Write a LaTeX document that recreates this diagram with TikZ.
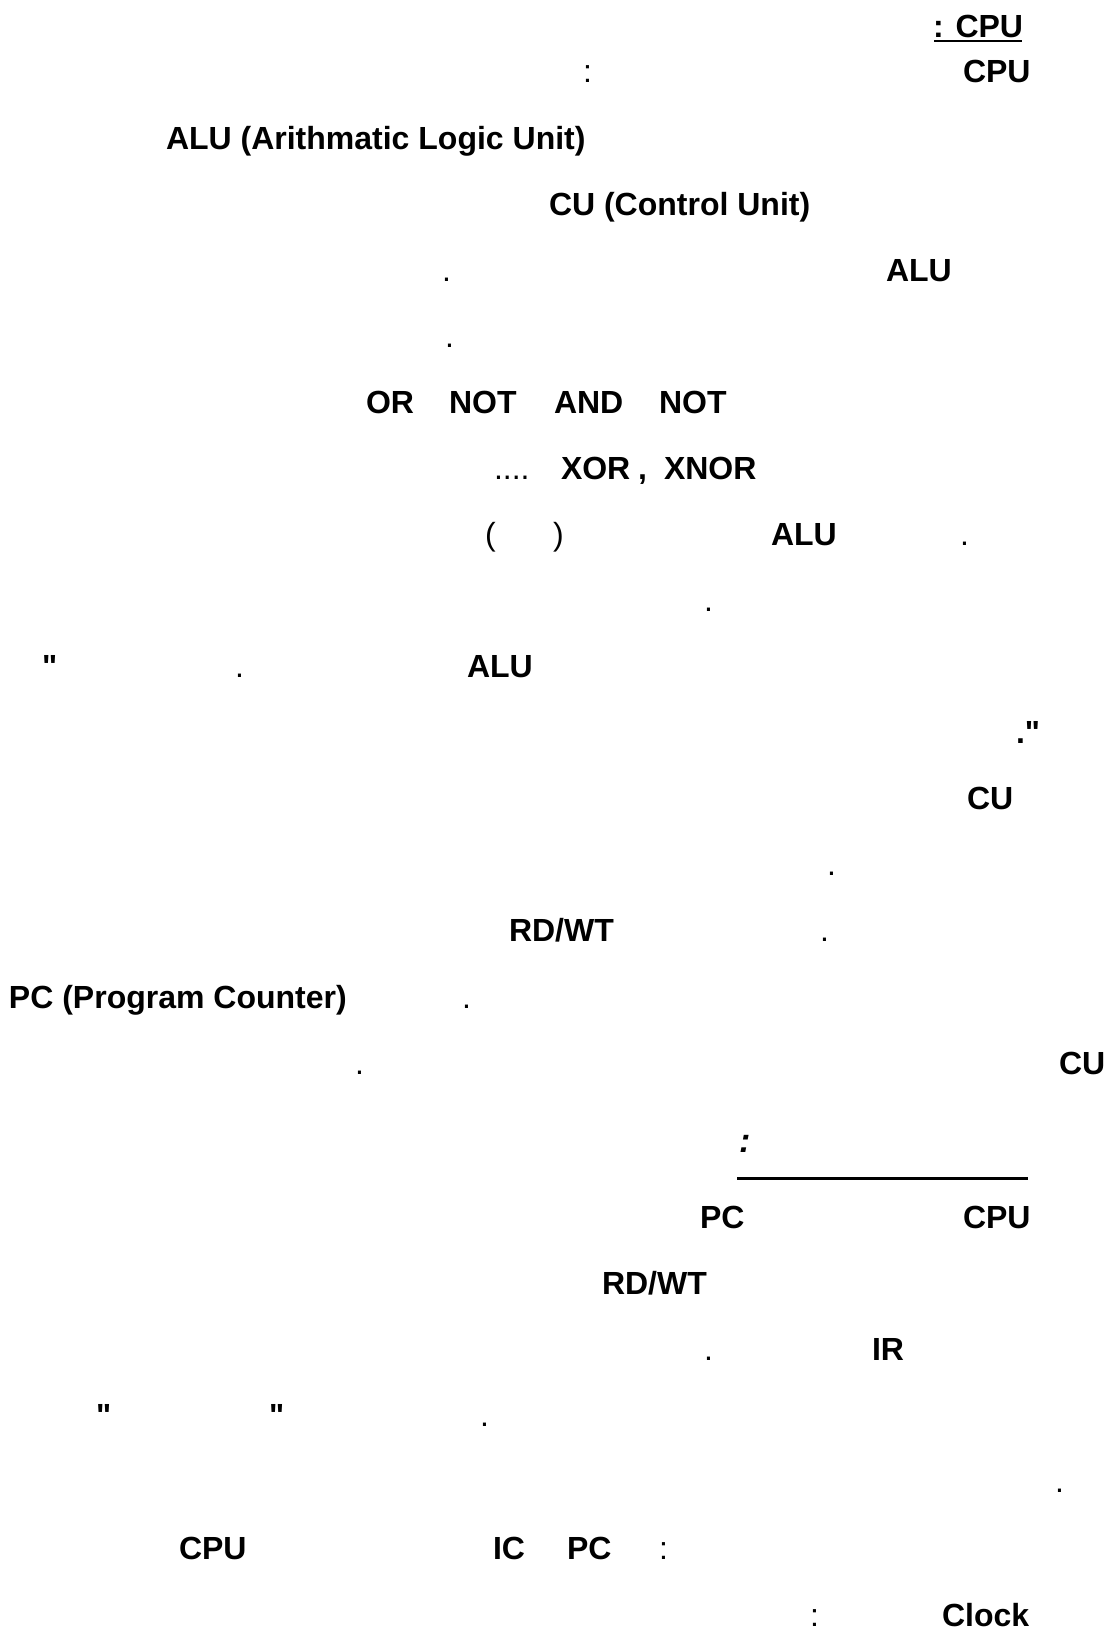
\documentclass[tikz,border=0pt]{standalone}
\usepackage{fontspec}
\setmainfont{Liberation Sans}[Ligatures=TeXOff]
\begin{document}
\begin{tikzpicture}[x=1pt,y=1pt,
  t/.style={anchor=base west,inner sep=0pt,outer sep=0pt,font=\fontsize{32}{38}\selectfont\bfseries},
  p/.style={anchor=base west,inner sep=0pt,outer sep=0pt,font=\fontsize{32}{38}\selectfont},
  rule/.style={line width=3pt}]
\useasboundingbox[fill=white] (0,0) rectangle (1114,-1633);
% line 1
\node[t] (h1) at (933,-37) {: CPU};
\draw[line width=2.5pt] (934,-41) -- (1022,-41);
% line 2
\node[p] (c2) at (583,-82) {:};
\node[t] (cpu2) at (963,-82) {CPU};
% line 3
\node[t] (alu3) at (166,-149) {ALU (Arithmatic Logic Unit)};
% line 4
\node[t] (cu4) at (549,-215) {CU (Control Unit)};
% line 5
\node[p] (d5) at (442,-281) {.};
\node[t] (alu5) at (886,-281) {ALU};
% line 6
\node[p] (d6) at (445,-347) {.};
% line 7
\node[t] (or7) at (366,-413) {OR};
\node[t] (not7a) at (449,-413) {NOT};
\node[t] (and7) at (554,-413) {AND};
\node[t] (not7b) at (659,-413) {NOT};
% line 8
\node[p] (dots8) at (494,-479) {....};
\node[t] (xor8) at (561,-479) {XOR};
\node[t] (cm8) at (638,-479) {,};
\node[t] (xnor8) at (664,-479) {XNOR};
% line 9
\node[p] (lp9) at (485,-545) {(};
\node[p] (rp9) at (553,-545) {)};
\node[t] (alu9) at (771,-545) {ALU};
\node[p] (d9) at (960,-545) {.};
% line 10
\node[p] (d10) at (704,-611) {.};
% line 11
\node[t] (q11) at (42,-677) {"};
\node[p] (d11) at (235,-677) {.};
\node[t] (alu11) at (467,-677) {ALU};
% line 12
\node[t] (dq12) at (1016,-743) {."};
% line 13
\node[t] (cu13) at (967,-809) {CU};
% line 14
\node[p] (d14) at (827,-875) {.};
% line 15
\node[t] (rdwt15) at (509,-941) {RD/WT};
\node[p] (d15) at (820,-941) {.};
% line 16
\node[t] (pc16) at (9,-1008) {PC (Program Counter)};
\node[p] (d16) at (462,-1008) {.};
% line 17
\node[p] (d17) at (355,-1074) {.};
\node[t] (cu17) at (1059,-1074) {CU};
% line 18
\node[t,font=\fontsize{34}{38}\selectfont\bfseries\itshape] (c18) at (739,-1152) {:};
\draw[rule] (737,-1178.5) -- (1028,-1178.5);
% line 19
\node[t] (pc19) at (700,-1228) {PC};
\node[t] (cpu19) at (963,-1228) {CPU};
% line 20
\node[t] (rdwt20) at (602,-1294) {RD/WT};
% line 21
\node[p] (d21) at (704,-1360) {.};
\node[t] (ir21) at (872,-1360) {IR};
% line 22
\node[t] (q22a) at (96,-1426) {"};
\node[t] (q22b) at (269,-1426) {"};
\node[p] (d22) at (480,-1426) {.};
% line 23
\node[p] (d23) at (1055,-1492) {.};
% line 24
\node[t] (cpu24) at (179,-1559) {CPU};
\node[t] (ic24) at (493,-1559) {IC};
\node[t] (pc24) at (567,-1559) {PC};
\node[p] (c24) at (659,-1559) {:};
% line 25
\node[p] (c25) at (810,-1626) {:};
\node[t] (clock25) at (942,-1626) {Clock};
\end{tikzpicture}
\end{document}
